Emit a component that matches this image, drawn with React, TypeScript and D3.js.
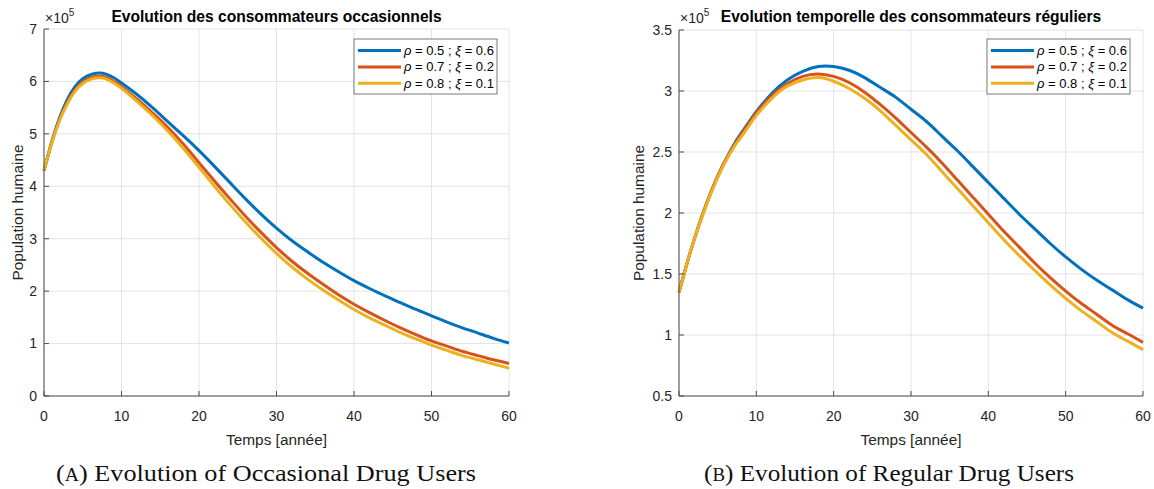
import React from 'react';
import * as d3 from 'd3';

// ---------- data ----------
const years = [0, 1, 2, 3, 4, 5, 6, 7, 8, 9, 10, 12, 14, 16, 18, 20, 22, 24, 26, 28, 30, 32, 34, 36, 38, 40, 42, 44, 46, 48, 50, 52, 54, 56, 58, 60];

// Occasional users (x 1e5)
const occBlue = [4.30, 4.85, 5.30, 5.65, 5.90, 6.05, 6.13, 6.16, 6.14, 6.07, 5.97, 5.75, 5.50, 5.23, 4.96, 4.68, 4.38, 4.07, 3.76, 3.47, 3.20, 2.96, 2.75, 2.55, 2.37, 2.20, 2.05, 1.91, 1.78, 1.65, 1.53, 1.41, 1.30, 1.20, 1.10, 1.01];
const occRed = [4.30, 4.83, 5.27, 5.60, 5.84, 5.99, 6.07, 6.10, 6.08, 6.00, 5.90, 5.66, 5.40, 5.12, 4.80, 4.45, 4.10, 3.76, 3.43, 3.12, 2.83, 2.57, 2.34, 2.13, 1.93, 1.75, 1.59, 1.44, 1.30, 1.17, 1.05, 0.95, 0.85, 0.77, 0.69, 0.62];
const occYellow = [4.30, 4.82, 5.25, 5.57, 5.81, 5.96, 6.04, 6.07, 6.05, 5.97, 5.87, 5.62, 5.35, 5.05, 4.72, 4.36, 4.00, 3.65, 3.32, 3.01, 2.72, 2.46, 2.23, 2.02, 1.83, 1.65, 1.49, 1.35, 1.21, 1.09, 0.97, 0.87, 0.77, 0.69, 0.61, 0.53];

// Regular users (x 1e5)
const regBlue = [1.35, 1.58, 1.79, 1.98, 2.15, 2.30, 2.43, 2.55, 2.65, 2.74, 2.83, 2.98, 3.09, 3.16, 3.20, 3.20, 3.17, 3.11, 3.03, 2.95, 2.85, 2.75, 2.63, 2.51, 2.38, 2.25, 2.12, 1.99, 1.87, 1.75, 1.64, 1.54, 1.45, 1.37, 1.29, 1.22];
const regRed = [1.35, 1.58, 1.79, 1.98, 2.15, 2.30, 2.43, 2.54, 2.64, 2.73, 2.82, 2.96, 3.06, 3.12, 3.14, 3.12, 3.07, 2.99, 2.89, 2.78, 2.66, 2.54, 2.41, 2.27, 2.13, 1.99, 1.85, 1.72, 1.59, 1.47, 1.36, 1.26, 1.17, 1.08, 1.01, 0.94];
const regYellow = [1.35, 1.58, 1.79, 1.97, 2.14, 2.29, 2.42, 2.53, 2.62, 2.71, 2.80, 2.94, 3.04, 3.09, 3.11, 3.08, 3.02, 2.94, 2.84, 2.72, 2.60, 2.48, 2.34, 2.20, 2.06, 1.92, 1.78, 1.65, 1.53, 1.41, 1.30, 1.20, 1.11, 1.02, 0.95, 0.88];

const rhoVals = ['0.5', '0.7', '0.8'];
const xiVals = ['0.6', '0.2', '0.1'];
const seriesColors = ['#0072BD', '#D95319', '#EDB120'];

const xTicks = [0, 10, 20, 30, 40, 50, 60];
const occYTicks = [0, 1, 2, 3, 4, 5, 6, 7];
const regYTicks = [0.5, 1, 1.5, 2, 2.5, 3, 3.5];

const titleOcc = 'Evolution des consommateurs occasionnels';
const titleReg = 'Evolution temporelle des consommateurs réguliers';
const xLabel = 'Temps [année]';
const yLabel = 'Population humaine';

const FONT = "'Liberation Sans', Arial, Helvetica, sans-serif";
const SERIF = "'Liberation Serif', 'DejaVu Serif', serif";
const AXIS = '#4d4d4d';
const GRID = '#e3e3e3';
const TXT = '#262626';

type PanelProps = {
  x0: number; x1: number; yT: number; yB: number;
  yDomain: [number, number]; yTicks: number[];
  series: number[][]; title: string;
  legendX: number; yLabelX: number;
};

function Panel(p: PanelProps) {
  const x = d3.scaleLinear().domain([0, 60]).range([p.x0, p.x1]);
  const y = d3.scaleLinear().domain(p.yDomain).range([p.yB, p.yT]);
  const line = d3.line<number>()
    .x((_, i) => x(years[i]))
    .y((d) => y(d))
    .curve(d3.curveNatural);
  const tickLen = 5;
  const cx = (p.x0 + p.x1) / 2;
  const cy = (p.yT + p.yB) / 2;
  const lgTop = 39, lgH = 55, lgW = 143;
  return (
    <g>
      {xTicks.map((t) => (
        <line key={'gx' + t} x1={x(t)} x2={x(t)} y1={p.yT} y2={p.yB} stroke={GRID} strokeWidth={1} />
      ))}
      {p.yTicks.map((t) => (
        <line key={'gy' + t} x1={p.x0} x2={p.x1} y1={y(t)} y2={y(t)} stroke={GRID} strokeWidth={1} />
      ))}
      {p.series.map((s, i) => (
        <path key={'s' + i} d={line(s) || ''} fill="none" stroke={seriesColors[i]} strokeWidth={3} strokeLinejoin="round" />
      ))}
      <line x1={p.x0} x2={p.x1} y1={p.yB} y2={p.yB} stroke={AXIS} strokeWidth={1} />
      <line x1={p.x0} x2={p.x0} y1={p.yT} y2={p.yB} stroke={AXIS} strokeWidth={1} />
      {xTicks.map((t) => (
        <g key={'xt' + t}>
          <line x1={x(t)} x2={x(t)} y1={p.yB} y2={p.yB - tickLen} stroke={AXIS} />
          <text x={x(t)} y={p.yB + 25} textAnchor="middle" fontSize={14} fontFamily={FONT} fill={TXT}>{t}</text>
        </g>
      ))}
      {p.yTicks.map((t) => (
        <g key={'yt' + t}>
          <line x1={p.x0} x2={p.x0 + tickLen} y1={y(t)} y2={y(t)} stroke={AXIS} />
          <text x={p.x0 - 7} y={y(t)} dy="0.35em" textAnchor="end" fontSize={14} fontFamily={FONT} fill={TXT}>{String(t)}</text>
        </g>
      ))}
      <text x={p.x0 + 1} y={23} fontSize={14} fontFamily={FONT} fill={TXT}>
        ×10<tspan dy={-7} fontSize={10}>5</tspan>
      </text>
      <text x={cx} y={22} textAnchor="middle" fontSize={15.6} fontWeight="bold" fontFamily={FONT} fill="#000">{p.title}</text>
      <text x={cx} y={445} textAnchor="middle" fontSize={15.4} fontFamily={FONT} fill={TXT}>{xLabel}</text>
      <text transform={`translate(${p.yLabelX},${cy}) rotate(-90)`} textAnchor="middle" dy="0.35em" fontSize={15.4} fontFamily={FONT} fill={TXT}>{yLabel}</text>
      <rect x={p.legendX} y={lgTop} width={lgW} height={lgH} fill="#fff" stroke="#7a7a7a" strokeWidth={1} />
      {rhoVals.map((r, i) => {
        const ly = lgTop + 11.5 + i * 16.4;
        return (
          <g key={'lg' + i}>
            <line x1={p.legendX + 4} x2={p.legendX + 47} y1={ly} y2={ly} stroke={seriesColors[i]} strokeWidth={3} />
            <text x={p.legendX + 50} y={ly} dy="0.35em" fontSize={13} fontFamily={FONT} fill="#000">
              <tspan fontStyle="italic">ρ</tspan> = {r} ; <tspan fontStyle="italic">ξ</tspan> = {xiVals[i]}
            </text>
          </g>
        );
      })}
    </g>
  );
}

export default function App() {
  return (
    <svg width={1154} height={489} style={{ position: 'absolute', left: 0, top: 0, background: '#fff' }}>
      <rect x={0} y={0} width={1154} height={489} fill="#fff" />
      <Panel x0={44} x1={509} yT={29} yB={396} yDomain={[0, 7]} yTicks={occYTicks}
        series={[occBlue, occRed, occYellow]} title={titleOcc} legendX={354} yLabelX={18} />
      <Panel x0={679} x1={1143} yT={30} yB={396} yDomain={[0.5, 3.5]} yTicks={regYTicks}
        series={[regBlue, regRed, regYellow]} title={titleReg} legendX={987} yLabelX={639} />
      <text x={266} y={481} textAnchor="middle" fontSize={24} fontFamily={SERIF} fill="#111"
        textLength={420} lengthAdjust="spacingAndGlyphs">
        (<tspan fontSize={18}>A</tspan>) Evolution of Occasional Drug Users
      </text>
      <text x={889} y={481} textAnchor="middle" fontSize={24} fontFamily={SERIF} fill="#111"
        textLength={370} lengthAdjust="spacingAndGlyphs">
        (<tspan fontSize={18}>B</tspan>) Evolution of Regular Drug Users
      </text>
    </svg>
  );
}
